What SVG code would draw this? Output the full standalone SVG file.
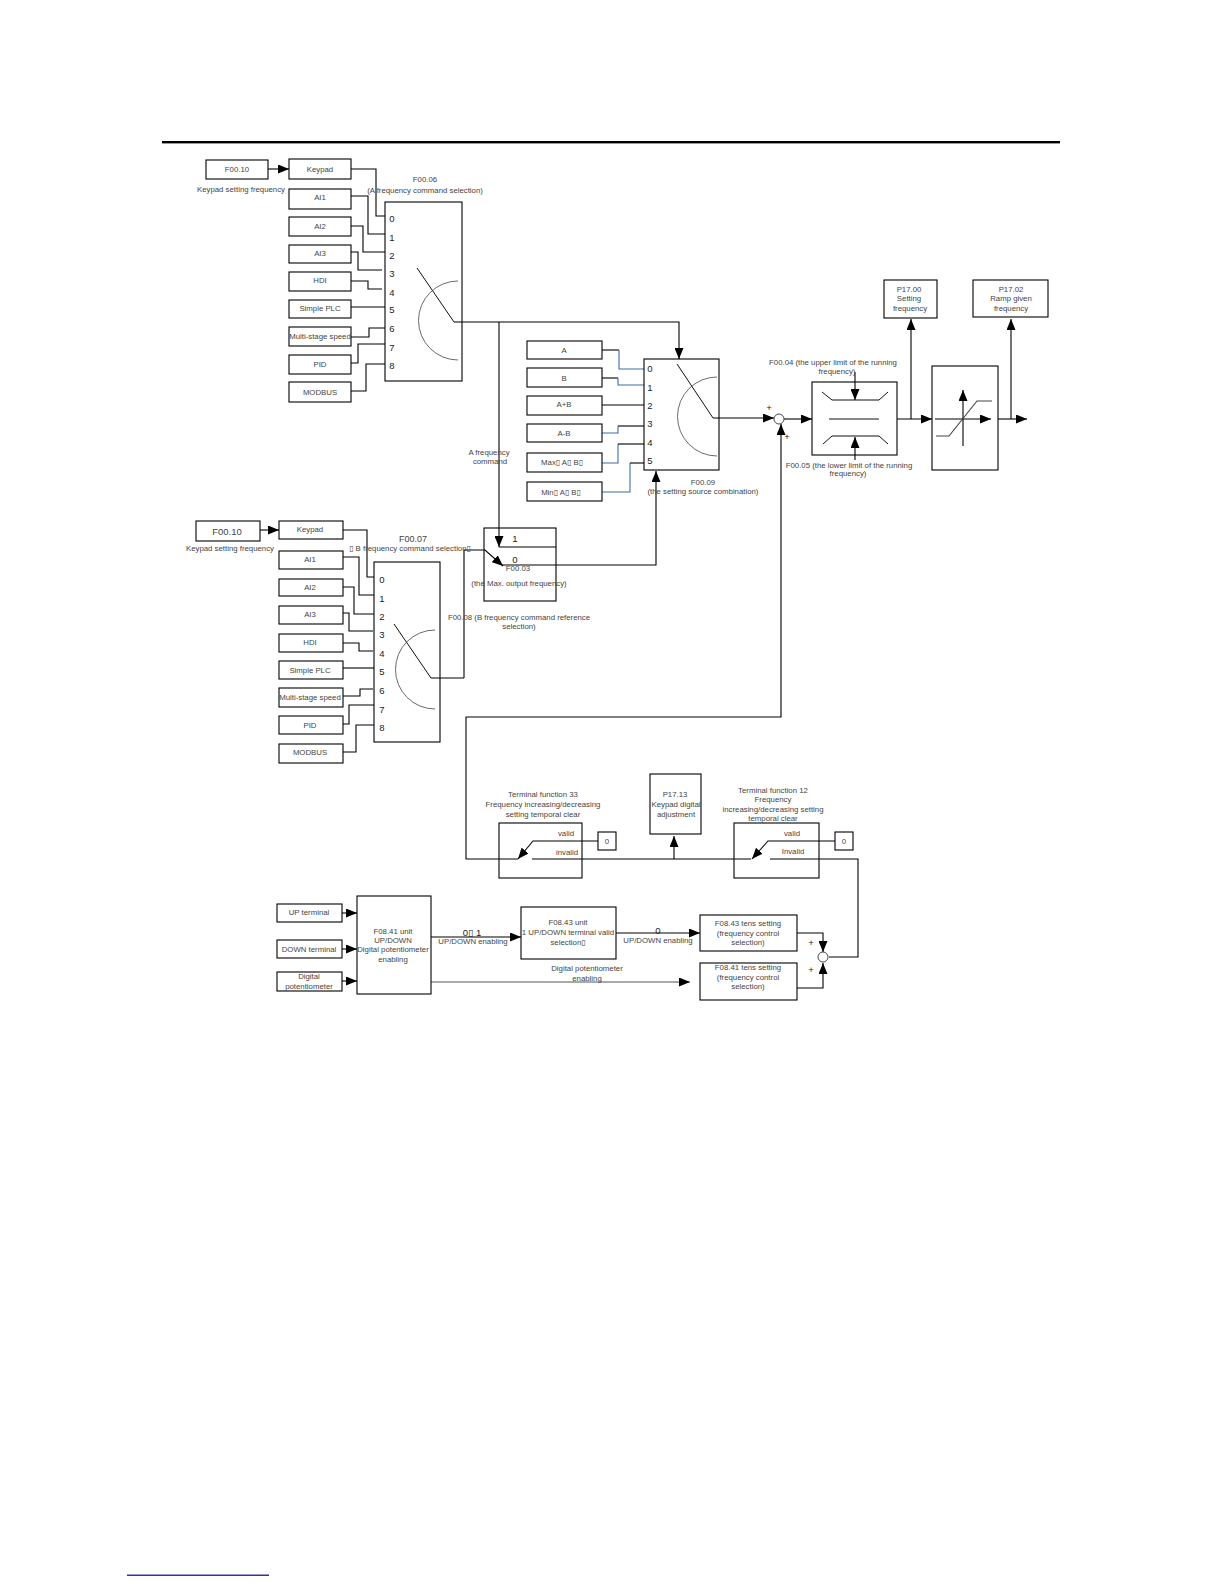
<svg xmlns="http://www.w3.org/2000/svg" width="1224" height="1584" viewBox="0 0 1224 1584">
<style>
rect.b{fill:none;stroke:#000;stroke-width:1.1}
.c path,.c line{fill:none;stroke:#000;stroke-width:1.1}
.c path.u,.s path.u{stroke:#3a6ea5}
.c path.a,.c line.a{marker-end:url(#ah)}
.s path{fill:none;stroke:#111;stroke-width:1}
.s path.arc{stroke:#444;stroke-width:.8}
text{font-family:"Liberation Sans",Arial,"DejaVu Sans",sans-serif;font-size:7.8px;fill:#444;text-anchor:middle;dominant-baseline:central}
text.d{font-size:9.5px;fill:#222}
text.l{font-size:9.5px;fill:#222}
</style>
<defs>
<marker id="ah" markerUnits="userSpaceOnUse" markerWidth="11" markerHeight="9" refX="11" refY="4.5" orient="auto"><path d="M0 0L11 4.5L0 9Z" fill="#000"/></marker>
</defs>
<rect x="162" y="141" width="898" height="2.4" fill="#000"/>
<rect x="127" y="1574.6" width="142" height="1.2" fill="#000080"/>

<g id="connectors" class="c">
<path d="M268 169H289" class="a"/>
<path d="M351 169H376V216H385"/>
<path d="M351 196H368V234H385"/>
<path d="M351 226H363V252H385"/>
<path d="M351 252H358V270H382"/>
<path d="M351 281H368V289H382"/>
<path d="M351 307H385"/>
<path d="M351 337H369V328H385"/>
<path d="M351 363H358V344H385"/>
<path d="M351 391H366V364H385"/>
<path d="M454 322H679V359" class="a"/>
<path d="M499 322V547" class="a"/>
<path d="M499 547H556"/>
<path d="M602 350H619"/><path d="M619 350V369H644" class="u"/>
<path d="M602 378H618"/><path d="M618 378V385H644" class="u"/>
<path d="M602 405H644"/>
<path d="M602 433H618V426" class="u"/><path d="M618 426H644"/>
<path d="M602 463H618V444" class="u"/><path d="M618 444H644"/>
<path d="M602 492H630V463" class="u"/><path d="M630 463H644"/>
<path d="M502 565H656V471" class="a"/>
<path d="M464 678V550H485L503 566" class="a"/>
<path d="M713 418H774" class="a"/>
<path d="M784 419H812" class="a"/>
<path d="M855 372V400" class="a"/>
<path d="M855 460V437" class="a"/>
<path d="M897 419H932" class="a"/>
<path d="M911 419V319" class="a"/>
<path d="M998 419H1027" class="a"/>
<path d="M1011 419V319" class="a"/>
<path d="M260 530H279" class="a"/>
<path d="M343 530H367V577H374"/>
<path d="M343 557H359V595H374"/>
<path d="M343 587H354V614H374"/>
<path d="M343 613H349V631H373"/>
<path d="M343 643H359V651H373"/>
<path d="M343 668H374"/>
<path d="M343 696H360V689H373"/>
<path d="M343 724H349V705H374"/>
<path d="M343 752H356V725H374"/>
<path d="M431 678H464"/>
<path d="M518 859H466V717H781V424" class="a"/>
<path d="M598 841H533L518 859" class="a"/>
<path d="M835 841H768L752 859" class="a"/>
<path d="M532 859H751"/>
<path d="M674 859V836" class="a"/>
<path d="M770 859H858V957H829"/>
<path d="M342 913H357" class="a"/>
<path d="M342 949H357" class="a"/>
<path d="M342 981H357" class="a"/>
<path d="M431 937H521" class="a"/>
<path d="M431 982H690" class="a" style="stroke:#555"/>
<path d="M616 933H700" class="a"/>
<path d="M797 933H823V952" class="a"/>
<path d="M797 988H823V963" class="a"/>
</g>

<g id="f0010a"><rect class="b" x="206" y="160" width="62" height="19"/><text x="237" y="169">F00.10</text><text x="241" y="189">Keypad setting frequency</text></g>
<g id="a-keypad"><rect class="b" x="289" y="159" width="62" height="20"/><text x="320" y="169">Keypad</text></g>
<g id="a-ai1"><rect class="b" x="289" y="189" width="62" height="20"/><text x="320" y="197">AI1</text></g>
<g id="a-ai2"><rect class="b" x="289" y="217" width="62" height="19"/><text x="320" y="226">AI2</text></g>
<g id="a-ai3"><rect class="b" x="289" y="245" width="62" height="18"/><text x="320" y="253">AI3</text></g>
<g id="a-hdi"><rect class="b" x="289" y="272" width="62" height="19"/><text x="320" y="280">HDI</text></g>
<g id="a-plc"><rect class="b" x="289" y="300" width="62" height="18"/><text x="320" y="308">Simple PLC</text></g>
<g id="a-multi"><rect class="b" x="289" y="327" width="62" height="19"/><text x="320" y="336">Multi-stage speed</text></g>
<g id="a-pid"><rect class="b" x="289" y="355" width="62" height="19"/><text x="320" y="364">PID</text></g>
<g id="a-modbus"><rect class="b" x="289" y="382" width="62" height="20"/><text x="320" y="392">MODBUS</text></g>

<g id="f0006" class="s"><rect class="b" x="385" y="202" width="77" height="179"/>
<text x="425" y="179">F00.06</text><text x="425" y="190">(A frequency command selection)</text>
<text class="d" x="392" y="218">0</text><text class="d" x="392" y="237">1</text><text class="d" x="392" y="255">2</text><text class="d" x="392" y="273">3</text><text class="d" x="392" y="292">4</text><text class="d" x="392" y="309">5</text><text class="d" x="392" y="328">6</text><text class="d" x="392" y="347">7</text><text class="d" x="392" y="365">8</text>
<path d="M417 268L454 322"/><path class="arc" d="M458 281A39 39 0 0 0 458 360"/></g>

<g id="s-a"><rect class="b" x="527" y="341" width="75" height="18"/><text x="564" y="350">A</text></g>
<g id="s-b"><rect class="b" x="527" y="368" width="75" height="19"/><text x="564" y="378">B</text></g>
<g id="s-apb"><rect class="b" x="527" y="396" width="75" height="19"/><text x="564" y="404">A+B</text></g>
<g id="s-amb"><rect class="b" x="527" y="424" width="75" height="18"/><text x="564" y="433">A-B</text></g>
<g id="s-max"><rect class="b" x="527" y="453" width="75" height="19"/><text x="562" y="462">Max▯ A▯ B▯</text></g>
<g id="s-min"><rect class="b" x="527" y="482" width="75" height="19"/><text x="561" y="492">Min▯ A▯ B▯</text></g>

<g id="f0009" class="s"><rect class="b" x="644" y="359" width="75" height="111"/>
<text class="d" x="650" y="368">0</text><text class="d" x="650" y="387">1</text><text class="d" x="650" y="405">2</text><text class="d" x="650" y="423">3</text><text class="d" x="650" y="442">4</text><text class="d" x="650" y="460">5</text>
<path d="M677 364L713 418"/><path class="arc" d="M717 377A39.5 39.5 0 0 0 717 456"/>
<text x="703" y="482">F00.09</text><text x="703" y="491">(the setting source combination)</text></g>

<g id="afc"><text x="489" y="452">A frequency</text><text x="490" y="461">command</text></g>

<g id="f0003"><rect class="b" x="484" y="528" width="72" height="73"/><text class="l" x="515" y="538">1</text><text class="l" x="515" y="559">0</text><text x="518" y="568">F00.03</text><text x="519" y="583">(the Max. output frequency)</text></g>
<g id="f0008"><text x="519" y="617">F00.08 (B frequency command reference</text><text x="519" y="626">selection)</text></g>

<g id="sum1"><circle cx="779" cy="419" r="5" fill="#fff" stroke="#333" stroke-width=".9"/><text class="d" x="769" y="407">+</text><text class="d" x="787" y="436">+</text></g>

<g id="limit" class="s"><rect class="b" x="812" y="382" width="85" height="73"/>
<path d="M822 392L832 400H879L888 392"/><path d="M829 419H879"/><path d="M823 444L832 436H879L888 444"/>
<text x="833" y="362">F00.04 (the upper limit of the running</text><text x="837" y="371">frequency)</text>
<text x="849" y="465">F00.05 (the lower limit of the running</text><text x="848" y="473">frequency)</text></g>

<g id="ramp" class="c"><rect class="b" x="932" y="366" width="66" height="104"/>
<line class="a" x1="935" y1="419" x2="991" y2="419"/><line class="a" x1="963" y1="446" x2="963" y2="390"/>
<path d="M936 436H949L977 401H992" style="stroke:#444"/></g>

<g id="f1700"><rect class="b" x="884" y="280" width="53" height="38"/><text x="909" y="289">P17.00</text><text x="909" y="298">Setting</text><text x="910" y="308">frequency</text></g>
<g id="f1702"><rect class="b" x="973" y="280" width="75" height="37"/><text x="1011" y="289">P17.02</text><text x="1011" y="298">Ramp given</text><text x="1011" y="308">frequency</text></g>

<g id="f0010b"><rect class="b" x="196" y="521" width="64" height="20"/><text x="227" y="531" style="font-size:9.5px">F00.10</text><text x="230" y="548">Keypad setting frequency</text></g>
<g id="b-keypad"><rect class="b" x="279" y="521" width="64" height="18"/><text x="310" y="529">Keypad</text></g>
<g id="b-ai1"><rect class="b" x="279" y="551" width="64" height="18"/><text x="310" y="559">AI1</text></g>
<g id="b-ai2"><rect class="b" x="279" y="579" width="64" height="17"/><text x="310" y="587">AI2</text></g>
<g id="b-ai3"><rect class="b" x="279" y="606" width="64" height="18"/><text x="310" y="614">AI3</text></g>
<g id="b-hdi"><rect class="b" x="279" y="634" width="64" height="18"/><text x="310" y="642">HDI</text></g>
<g id="b-plc"><rect class="b" x="279" y="661" width="64" height="18"/><text x="310" y="670">Simple PLC</text></g>
<g id="b-multi"><rect class="b" x="279" y="688" width="64" height="19"/><text x="310" y="697">Multi-stage speed</text></g>
<g id="b-pid"><rect class="b" x="279" y="716" width="64" height="18"/><text x="310" y="725">PID</text></g>
<g id="b-modbus"><rect class="b" x="279" y="744" width="64" height="19"/><text x="310" y="752">MODBUS</text></g>

<g id="f0007" class="s"><rect class="b" x="374" y="562" width="66" height="180"/>
<text x="413" y="539" style="font-size:9px">F00.07</text><text x="410" y="548">▯ B frequency command selection▯</text>
<text class="d" x="382" y="579">0</text><text class="d" x="382" y="598">1</text><text class="d" x="382" y="616">2</text><text class="d" x="382" y="634">3</text><text class="d" x="382" y="653">4</text><text class="d" x="382" y="671">5</text><text class="d" x="382" y="690">6</text><text class="d" x="382" y="709">7</text><text class="d" x="382" y="727">8</text>
<path d="M394 624L431 678"/><path class="arc" d="M435 630A39.5 39.5 0 0 0 435 709"/></g>

<g id="t33"><rect class="b" x="499" y="823" width="83" height="55"/><text x="543" y="794">Terminal function 33</text><text x="543" y="804">Frequency increasing/decreasing</text><text x="543" y="814">setting temporal clear</text><text x="566" y="833">valid</text><text x="567" y="852">invalid</text></g>
<g id="zero1"><rect class="b" x="598" y="832" width="18" height="18"/><text x="607" y="841">0</text></g>
<g id="p1713"><rect class="b" x="650" y="774" width="51" height="60"/><text x="675" y="794">P17.13</text><text x="676" y="804">Keypad digital</text><text x="676" y="814">adjustment</text></g>
<g id="t12"><rect class="b" x="734" y="823" width="85" height="55"/><text x="773" y="790">Terminal function 12</text><text x="773" y="799">Frequency</text><text x="773" y="809">increasing/decreasing setting</text><text x="773" y="818">temporal clear</text><text x="792" y="833">valid</text><text x="793" y="851">Invalid</text></g>
<g id="zero2"><rect class="b" x="835" y="832" width="18" height="18"/><text x="844" y="841">0</text></g>

<g id="up"><rect class="b" x="277" y="904" width="65" height="18"/><text x="309" y="912">UP terminal</text></g>
<g id="down"><rect class="b" x="277" y="940" width="65" height="18"/><text x="309" y="949">DOWN terminal</text></g>
<g id="pot"><rect class="b" x="277" y="972" width="65" height="19"/><text x="309" y="976">Digital</text><text x="309" y="986">potentiometer</text></g>
<g id="f0841u"><rect class="b" x="357" y="896" width="74" height="98"/><text x="393" y="931">F08.41 unit</text><text x="393" y="940">UP/DOWN</text><text x="393" y="949">Digital potentiometer</text><text x="393" y="959">enabling</text></g>
<g id="l01"><text class="l" x="472" y="932">0▯ 1</text><text x="473" y="941">UP/DOWN enabling</text></g>
<g id="f0843u"><rect class="b" x="521" y="907" width="95" height="52"/><text x="568" y="922">F08.43 unit</text><text x="568" y="932">1 UP/DOWN terminal valid</text><text x="568" y="942">selection▯</text></g>
<g id="l0"><text class="l" x="658" y="930">0</text><text x="658" y="940">UP/DOWN enabling</text></g>
<g id="lpot"><text x="587" y="968">Digital potentiometer</text><text x="587" y="978">enabling</text></g>
<g id="f0843t"><rect class="b" x="700" y="915" width="97" height="36"/><text x="748" y="923">F08.43 tens setting</text><text x="748" y="933">(frequency control</text><text x="748" y="942">selection)</text></g>
<g id="f0841t"><rect class="b" x="700" y="963" width="97" height="37"/><text x="748" y="967">F08.41 tens setting</text><text x="748" y="977">(frequency control</text><text x="748" y="986">selection)</text></g>
<g id="sum2"><circle cx="823" cy="957" r="5" fill="#fff" stroke="#333" stroke-width=".9"/><text class="d" x="811" y="942">+</text><text class="d" x="811" y="969">+</text></g>
</svg>
